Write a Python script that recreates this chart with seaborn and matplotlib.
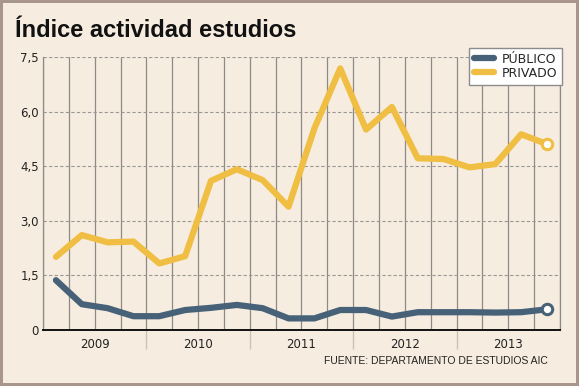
import numpy as np
import pandas as pd
import matplotlib
matplotlib.use("Agg")
import matplotlib.pyplot as plt
import seaborn as sns

# -----------------------------
# data (quarterly index)
# -----------------------------
years = ["2009", "2010", "2011", "2012", "2013"]
quarters = [f"{y}-T{q}" for y in years for q in range(1, 5)]

publico = [1.37, 0.71, 0.60, 0.38, 0.38, 0.55, 0.61, 0.69, 0.60, 0.32,
           0.32, 0.55, 0.55, 0.37, 0.49, 0.49, 0.49, 0.48, 0.49, 0.57]
privado = [2.01, 2.61, 2.41, 2.43, 1.83, 2.03, 4.10, 4.42, 4.12, 3.39,
           5.54, 7.19, 5.51, 6.13, 4.72, 4.70, 4.47, 4.56, 5.38, 5.11]

yticks = [0, 1.5, 3.0, 4.5, 6.0, 7.5]
ytick_labels = ["0", "1,5", "3,0", "4,5", "6,0", "7,5"]

colors = {"PÚBLICO": "#476278", "PRIVADO": "#EFBE43"}
bg = "#F6EDE0"
grid_col = "#8E8A86"

pos = np.arange(len(quarters)) + 0.5
df = pd.DataFrame({
    "trimestre": quarters * 2,
    "pos": np.concatenate([pos, pos]),
    "valor": publico + privado,
    "serie": ["PÚBLICO"] * len(quarters) + ["PRIVADO"] * len(quarters),
})

# -----------------------------
# figure
# -----------------------------
sns.set_theme(style="white")
plt.rcParams["font.family"] = ["DejaVu Sans"]

fig, ax = plt.subplots(figsize=(5.79, 3.86), dpi=100)
fig.subplots_adjust(left=0.0743, right=0.967, bottom=0.145, top=0.852)
fig.patch.set_facecolor(bg)
fig.patch.set_edgecolor("#A8968C")
fig.patch.set_linewidth(3)
ax.set_facecolor(bg)

sns.lineplot(data=df, x="pos", y="valor", hue="serie", palette=colors,
             linewidth=4.5, solid_joinstyle="round", ax=ax, zorder=3)

# open circle on the last value of each series
for name, vals in [("PÚBLICO", publico), ("PRIVADO", privado)]:
    ax.plot(pos[-1], vals[-1], "o", mfc="white", mec=colors[name],
            ms=7.5, mew=2.2, zorder=4)

# axes / grid
ax.set_xlim(0, len(quarters))
ax.set_ylim(0, 7.5)
ax.set_yticks(yticks, labels=ytick_labels)
ax.set_xticks([4 * i + 2 for i in range(len(years))], labels=years)
ax.set_xticks(range(len(quarters) + 1), minor=True)
ax.xaxis.remove_overlapping_locs = False
ax.tick_params(axis="both", which="both", length=0, labelsize=8.5,
               labelcolor="#222222")
ax.tick_params(axis="x", pad=6)
ax.tick_params(axis="y", pad=3)
ax.grid(axis="x", which="minor", color=grid_col, linewidth=0.9)
ax.grid(axis="y", which="major", color="#9A9794", linewidth=0.8,
        linestyle=(0, (3, 2)))
ax.grid(axis="x", which="major", visible=False)
ax.set_axisbelow(True)

ax.spines["top"].set_visible(False)
for s in ["left", "right"]:
    ax.spines[s].set_color(grid_col)
    ax.spines[s].set_linewidth(0.9)
ax.spines["bottom"].set_color("#111111")
ax.spines["bottom"].set_linewidth(1.4)

# year separators under the axis
sec = ax.secondary_xaxis("bottom")
sec.set_xticks([4, 8, 12, 16], labels=[])
sec.tick_params(length=14, width=1, color="#C9C3BC")
for s in sec.spines.values():
    s.set_visible(False)

ax.set_xlabel("")
ax.set_ylabel("")

# legend
handles, labels = ax.get_legend_handles_labels()
ax.legend(handles, labels, loc="upper right", bbox_to_anchor=(1.005, 1.035),
          borderaxespad=0, frameon=True, fancybox=False, framealpha=1,
          facecolor="white", edgecolor="#8C8C8C", fontsize=9,
          handlelength=1.6, handletextpad=0.6, labelspacing=0.1,
          borderpad=0.4)

# texts
fig.text(0.026, 0.905, "Índice actividad estudios", fontsize=17,
         fontweight="bold", color="#111111",
         family=["Liberation Sans", "DejaVu Sans"])
fig.text(0.947, 0.058, "FUENTE: DEPARTAMENTO DE ESTUDIOS AIC", fontsize=7.5,
         ha="right", color="#222222",
         family=["Liberation Sans", "DejaVu Sans"])

plt.savefig("out.png", dpi=100, facecolor=fig.get_facecolor(),
            edgecolor=fig.get_edgecolor())
